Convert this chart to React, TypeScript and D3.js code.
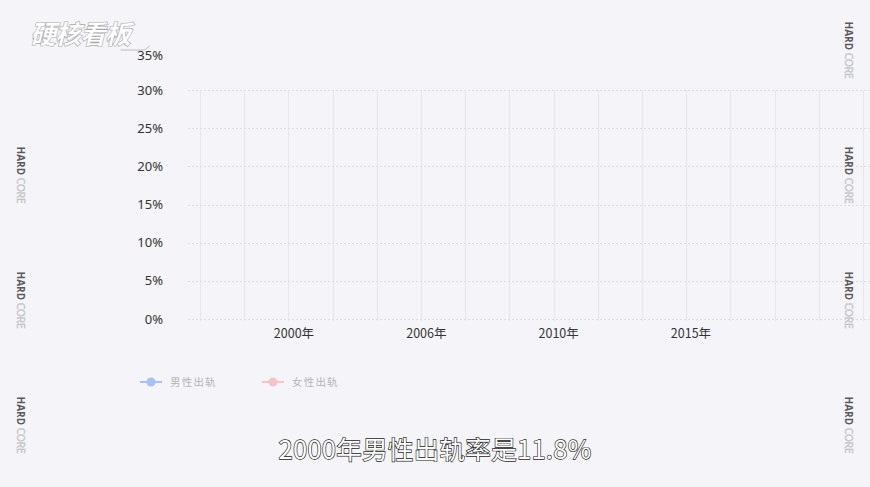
import { useEffect, useRef } from 'react';
import * as d3 from 'd3';

const years = ['2000年', '2006年', '2010年', '2015年'];
const yTicks = [0, 5, 10, 15, 20, 25, 30, 35];
const gridTicks = [0, 5, 10, 15, 20, 25, 30];
const legendItems = [
  { name: '男性出轨', color: '#a8c3f0' },
  { name: '女性出轨', color: '#f3c5c6' },
];
const subtitle = '2000年男性出轨率是11.8%';
const leftMarks = [175, 300, 425];
const rightMarks = [50, 175, 300, 425];

const W = 870;
const H = 487;

export default function App() {
  const svgRef = useRef<SVGSVGElement>(null);

  useEffect(() => {
    if (!svgRef.current) return;
    const svg = d3.select(svgRef.current);
    svg.selectAll('*').remove();

    svg.append('rect').attr('width', W).attr('height', H).attr('fill', '#f5f5f9');

    const y = d3.scaleLinear().domain([0, 30]).range([319, 90]);
    const x = d3.scalePoint<string>().domain(years).range([294, 691]);
    // background minor grid columns
    const cols = d3.scaleLinear().domain([0, 15]).range([200, 863]);

    const grid = svg.append('g');
    grid
      .selectAll('line.v')
      .data(d3.range(16))
      .join('line')
      .attr('class', 'v')
      .attr('x1', (d) => Math.round(cols(d)) + 0.5)
      .attr('x2', (d) => Math.round(cols(d)) + 0.5)
      .attr('y1', y(30))
      .attr('y2', y(0) + 2)
      .attr('stroke', '#e6e6eb')
      .attr('stroke-width', 1);

    grid
      .selectAll('line.h')
      .data(gridTicks)
      .join('line')
      .attr('class', 'h')
      .attr('x1', 188)
      .attr('x2', W)
      .attr('y1', (d) => Math.round(y(d)) + 0.5)
      .attr('y2', (d) => Math.round(y(d)) + 0.5)
      .attr('stroke', '#dcdce2')
      .attr('stroke-dasharray', '2,2')
      .attr('stroke-width', 1);

    // y axis labels (top label sits a little lower than the scale would put it)
    svg
      .append('g')
      .selectAll('text')
      .data(yTicks)
      .join('text')
      .attr('x', 163)
      .attr('y', (d) => Math.max(y(d), 55))
      .attr('dy', '0.35em')
      .attr('text-anchor', 'end')
      .attr('font-family', '"Noto Sans", sans-serif')
      .attr('font-size', 13)
      .attr('fill', '#333')
      .text((d) => `${d}%`);

    // x axis labels
    svg
      .append('g')
      .selectAll('text')
      .data(years)
      .join('text')
      .attr('x', (d) => x(d) as number)
      .attr('y', 338)
      .attr('text-anchor', 'middle')
      .attr('font-family', '"Noto Sans CJK SC", "Noto Sans", sans-serif')
      .attr('font-size', 12.5)
      .attr('fill', '#333')
      .text((d) => d);

    // legend
    const legend = svg
      .append('g')
      .selectAll('g')
      .data(legendItems)
      .join('g')
      .attr('transform', (_, i) => `translate(${140 + i * 122},382)`);
    legend
      .append('line')
      .attr('x1', 0)
      .attr('x2', 22)
      .attr('stroke', (d) => d.color)
      .attr('stroke-width', 2);
    legend
      .append('circle')
      .attr('cx', 11)
      .attr('r', 4.5)
      .attr('fill', (d) => d.color);
    legend
      .append('text')
      .attr('x', 30)
      .attr('dy', '0.35em')
      .attr('font-family', '"Noto Sans CJK SC", sans-serif')
      .attr('font-size', 10.5)
      .attr('letter-spacing', 1.2)
      .attr('fill', '#b4b4b8')
      .text((d) => d.name);

    // watermarks
    const marks = [
      ...leftMarks.map((cy) => ({ cx: 20, cy })),
      ...rightMarks.map((cy) => ({ cx: 848, cy })),
    ];
    const wm = svg
      .append('g')
      .selectAll('text')
      .data(marks)
      .join('text')
      .attr('transform', (d) => `translate(${d.cx},${d.cy}) rotate(90)`)
      .attr('text-anchor', 'middle')
      .attr('dy', '0.35em')
      .attr('font-family', '"Open Sans", "DejaVu Sans", sans-serif')
      .attr('font-size', 10);
    wm.append('tspan').attr('font-weight', 700).attr('fill', '#5a5a5e').text('HARD ');
    wm.append('tspan')
      .attr('fill', '#f5f5f9')
      .attr('stroke', '#b8b8bc')
      .attr('stroke-width', 0.5)
      .text('CORE');

    // logo
    const logo = svg.append('g').attr('transform', 'translate(30,44) skewX(-14)');
    logo
      .append('text')
      .attr('font-family', '"Noto Sans CJK SC", sans-serif')
      .attr('font-weight', 900)
      .attr('font-size', 26)
      .attr('letter-spacing', -1)
      .attr('fill', '#ffffff')
      .attr('stroke', '#a8a8ac')
      .attr('stroke-width', 0.6)
      .text('硬核看板');
    logo
      .append('path')
      .attr('d', 'M92,6 L116,6 L120,2')
      .attr('fill', 'none')
      .attr('stroke', '#a8a8ac')
      .attr('stroke-width', 0.7);

    // subtitle
    svg
      .append('text')
      .attr('x', 435)
      .attr('y', 459)
      .attr('text-anchor', 'middle')
      .attr('font-family', '"Noto Sans CJK SC", sans-serif')
      .attr('font-size', 25.5)
      .attr('letter-spacing', 0.3)
      .attr('fill', '#ffffff')
      .attr('stroke', '#222')
      .attr('stroke-width', 1.3)
      .attr('paint-order', 'stroke')
      .text(subtitle);
  }, []);

  return (
    <div style={{ position: 'absolute', left: 0, top: 0 }}>
      <svg ref={svgRef} width={W} height={H} style={{ display: 'block' }} />
    </div>
  );
}
